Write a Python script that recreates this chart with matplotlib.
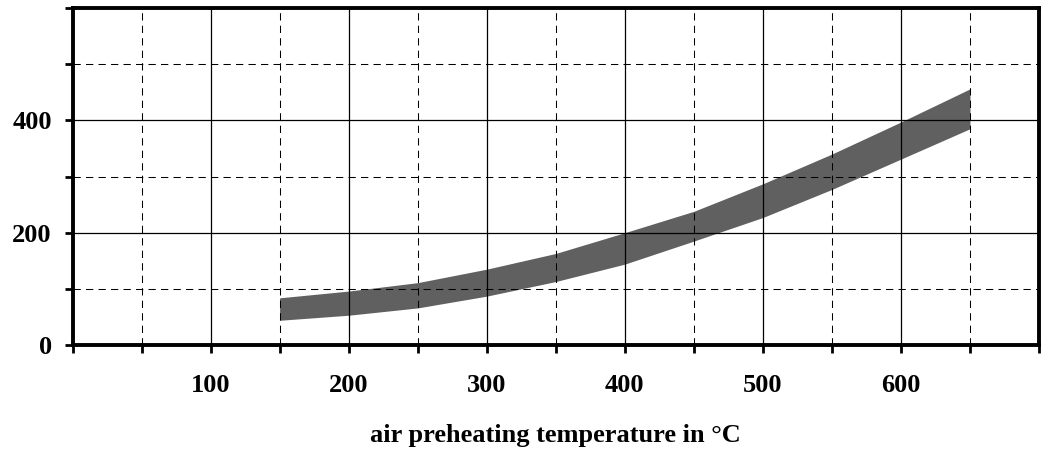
import matplotlib
matplotlib.use("Agg")
import matplotlib.pyplot as plt
from matplotlib.ticker import MultipleLocator

temps = [150, 200, 250, 300, 350, 400, 450, 500, 550, 600, 650]
upper = [84, 96, 111, 135, 163, 200, 238, 287, 340, 397, 456]
lower = [44, 53, 66, 87, 113, 144, 185, 227, 277, 331, 385]
xticks = [100, 200, 300, 400, 500, 600]
yticks = [0, 200, 400]
xlabel = "air preheating temperature in \u00b0C"

plt.rcParams['font.family'] = ['Liberation Serif', 'DejaVu Serif']
plt.rcParams['font.weight'] = 'bold'

fig = plt.figure(figsize=(10.47, 4.49), dpi=100)
ax = fig.add_axes([72.5/1047, 1-345/449, (1039-72.5)/1047, (345-8)/449])

ax.fill_between(temps, lower, upper, color='#606060', linewidth=0, zorder=1)

ax.set_xlim(0, 700)
ax.set_ylim(0, 600)
ax.set_xticks(xticks)
ax.set_yticks(yticks)
ax.xaxis.set_minor_locator(MultipleLocator(50))
ax.yaxis.set_minor_locator(MultipleLocator(100))

ax.grid(which='major', color='black', linewidth=0.9, linestyle='-', zorder=2.5)
ax.grid(which='minor', color='black', linewidth=0.75, linestyle=(0, (7, 5)), zorder=2.5)
ax.set_axisbelow(False)

for s in ax.spines.values():
    s.set_linewidth(2.8)
    s.set_zorder(5)

ax.tick_params(which='both', direction='out', length=6, width=2, colors='black')
ax.tick_params(axis='x', which='major', pad=15, labelsize=19)
ax.tick_params(axis='y', which='major', pad=9, labelsize=19)
for lab in ax.get_xticklabels() + ax.get_yticklabels():
    lab.set_fontweight('bold')

ax.set_xlabel(xlabel, fontsize=19, fontweight='bold', labelpad=19)

fig.savefig("out.png", dpi=100)
